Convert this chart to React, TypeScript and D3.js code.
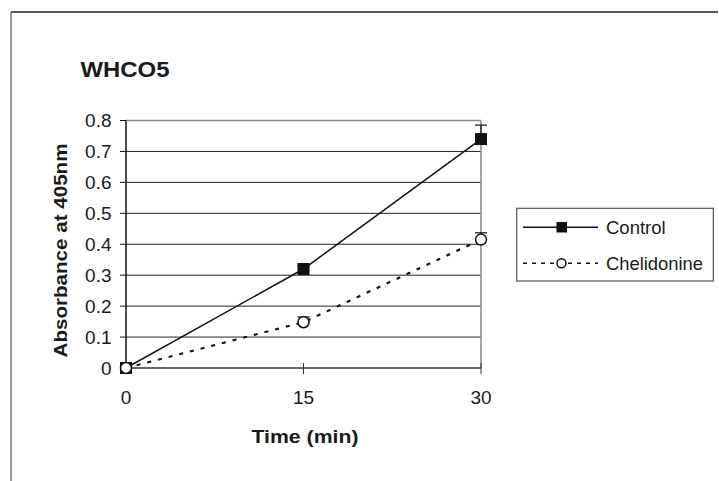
import React from "react";
import * as d3 from "d3";

const times = [0, 15, 30];
const controlValues = [0, 0.32, 0.74];
const controlErrors = [0, 0.01, 0.045];
const chelidonineValues = [0, 0.148, 0.415];
const chelidonineErrors = [0, 0.017, 0.022];
const yTicks = [0, 0.1, 0.2, 0.3, 0.4, 0.5, 0.6, 0.7, 0.8];
const xTicks = [0, 15, 30];
const seriesNames = ["Control", "Chelidonine"];
const title = "WHCO5";
const xLabel = "Time (min)";
const yLabel = "Absorbance at 405nm";

const W = 719;
const H = 481;
const FONT = "'Liberation Sans', Arial, Helvetica, sans-serif";

export default function App() {
  const x = d3.scaleLinear().domain([0, 30]).range([126, 481]);
  const y = d3.scaleLinear().domain([0, 0.8]).range([368, 120.5]);
  const line = d3
    .line<number>()
    .x((_, i) => x(times[i]))
    .y((d) => y(d));

  const [x0, x1] = x.range();
  const [y0, y1] = y.range();

  return (
    <svg
      width={W}
      height={H}
      style={{ position: "absolute", left: 0, top: 0, background: "#fff" }}
      fontFamily={FONT}
    >
      <rect x={0} y={0} width={W} height={H} fill="#fff" />
      {/* outer frame */}
      <line x1={11} y1={12} x2={718} y2={12} stroke="#222" strokeWidth={1.5} />
      <line x1={11} y1={12} x2={11} y2={481} stroke="#777" strokeWidth={1.5} />

      {/* title */}
      <text x={80.5} y={76.5} fontSize={22} fontWeight="bold" fill="#1a1a1a" textLength={89} lengthAdjust="spacingAndGlyphs">
        {title}
      </text>

      {/* gridlines */}
      {yTicks.slice(1, -1).map((t) => (
        <line key={"g" + t} x1={x0} x2={x1} y1={y(t)} y2={y(t)} stroke="#222" strokeWidth={1} />
      ))}
      {/* plot area border top/right */}
      <line x1={x0} x2={x1} y1={y1} y2={y1} stroke="#888" strokeWidth={1.5} />
      <line x1={x1} x2={x1} y1={y1} y2={y0} stroke="#888" strokeWidth={1.5} />

      {/* y axis */}
      <line x1={x0} x2={x0} y1={y1} y2={y0} stroke="#111" strokeWidth={1.5} />
      {yTicks.map((t) => (
        <g key={"yt" + t}>
          <line x1={x0 - 6} x2={x0} y1={y(t)} y2={y(t)} stroke="#111" strokeWidth={1} />
          <text x={111.5} y={y(t)} dy="0.36em" textAnchor="end" fontSize={19} fill="#1a1a1a">
            {t === 0 ? "0" : t.toFixed(1)}
          </text>
        </g>
      ))}

      {/* x axis */}
      <line x1={x0} x2={x1} y1={y0} y2={y0} stroke="#333" strokeWidth={1.5} />
      {xTicks.map((t) => (
        <g key={"xt" + t}>
          <line x1={x(t)} x2={x(t)} y1={y0 - 5} y2={y0 + 6} stroke="#333" strokeWidth={1} />
          <text x={x(t)} y={403.5} textAnchor="middle" fontSize={19} fill="#1a1a1a">
            {t}
          </text>
        </g>
      ))}

      {/* axis titles */}
      <text x={305} y={443} textAnchor="middle" fontSize={18} fontWeight="bold" fill="#1a1a1a" textLength={107} lengthAdjust="spacingAndGlyphs">
        {xLabel}
      </text>
      <text
        transform={`translate(67,250.5) rotate(-90)`}
        textAnchor="middle"
        fontSize={18}
        fontWeight="bold"
        fill="#1a1a1a"
        textLength={214}
        lengthAdjust="spacingAndGlyphs"
      >
        {yLabel}
      </text>

      {/* lines */}
      <path d={line(controlValues) || ""} fill="none" stroke="#111" strokeWidth={1.5} />
      <path d={line(chelidonineValues) || ""} fill="none" stroke="#111" strokeWidth={2.2} strokeDasharray="4,7" />

      {/* error bars */}
      {times.map((t, i) =>
        controlErrors[i] > 0 ? (
          <g key={"ce" + i}>
            <line x1={x(t)} x2={x(t)} y1={y(controlValues[i])} y2={y(controlValues[i] + controlErrors[i])} stroke="#111" strokeWidth={1.2} />
            <line x1={x(t) - 6} x2={x(t) + 6} y1={y(controlValues[i] + controlErrors[i])} y2={y(controlValues[i] + controlErrors[i])} stroke="#111" strokeWidth={1.2} />
          </g>
        ) : null
      )}
      {times.map((t, i) =>
        chelidonineErrors[i] > 0 ? (
          <g key={"he" + i}>
            <line x1={x(t)} x2={x(t)} y1={y(chelidonineValues[i])} y2={y(chelidonineValues[i] + chelidonineErrors[i])} stroke="#111" strokeWidth={1.2} />
            <line x1={x(t) - 6} x2={x(t) + 6} y1={y(chelidonineValues[i] + chelidonineErrors[i])} y2={y(chelidonineValues[i] + chelidonineErrors[i])} stroke="#111" strokeWidth={1.2} />
          </g>
        ) : null
      )}

      {/* markers */}
      {times.map((t, i) => (
        <rect key={"cm" + i} x={x(t) - 6} y={y(controlValues[i]) - 6} width={12} height={12} fill="#111" />
      ))}
      {times.map((t, i) => (
        <circle key={"hm" + i} cx={x(t)} cy={y(chelidonineValues[i])} r={5.5} fill="#fff" stroke="#111" strokeWidth={1.5} />
      ))}

      {/* legend */}
      <rect x={516.7} y={208.3} width={196.6} height={72.7} fill="#fff" stroke="#555" strokeWidth={1.2} />
      <line x1={523} x2={598} y1={227.3} y2={227.3} stroke="#111" strokeWidth={1.5} />
      <rect x={556.5} y={222} width={10.5} height={10.5} fill="#111" />
      <text x={606} y={233.8} fontSize={18.5} fill="#1a1a1a">
        {seriesNames[0]}
      </text>
      <line x1={523} x2={598} y1={263.3} y2={263.3} stroke="#111" strokeWidth={1.5} strokeDasharray="4,5" />
      <circle cx={561.5} cy={263.3} r={4.5} fill="#fff" stroke="#111" strokeWidth={1.5} />
      <text x={606} y={269.8} fontSize={18.5} fill="#1a1a1a" textLength={97} lengthAdjust="spacingAndGlyphs">
        {seriesNames[1]}
      </text>
    </svg>
  );
}
